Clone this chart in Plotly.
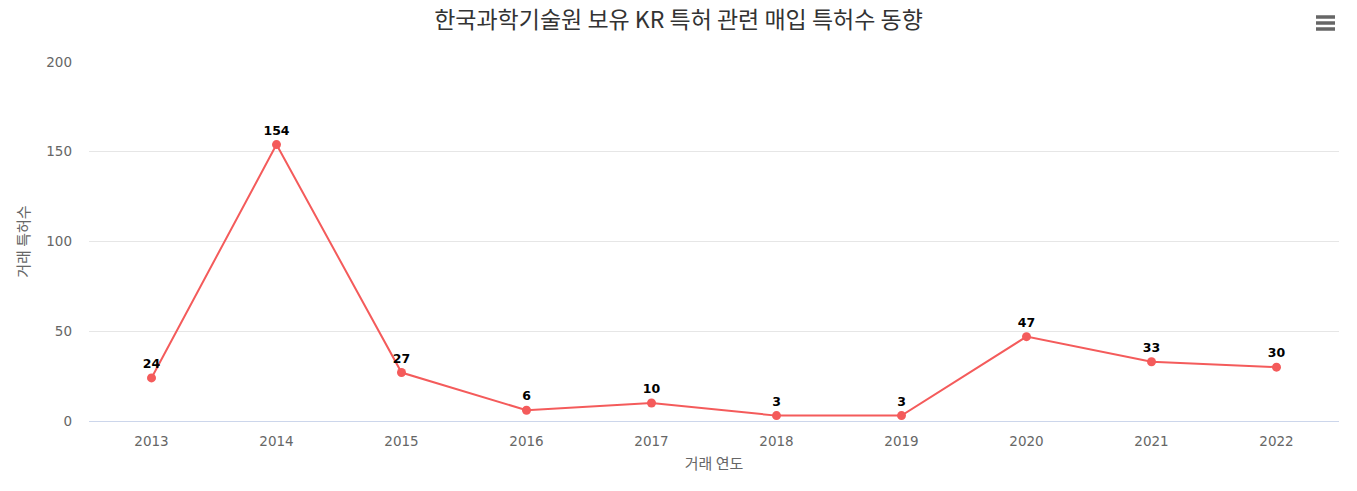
import plotly.graph_objects as go

years = ["2013", "2014", "2015", "2016", "2017", "2018", "2019", "2020", "2021", "2022"]
counts = [24, 154, 27, 6, 10, 3, 3, 47, 33, 30]
y_ticks = [0, 50, 100, 150, 200]

title = "한국과학기술원 보유 KR 특허 관련 매입 특허수 동향"
x_title = "거래 연도"
y_title = "거래 특허수"

font = "Noto Sans CJK KR, Noto Sans, sans-serif"
num_font = "DejaVu Sans, Verdana, sans-serif"

fig = go.Figure()
fig.add_trace(go.Scatter(
    x=years, y=counts,
    mode="lines+markers+text",
    text=["<b>%d</b>" % v for v in counts],
    textposition="top center",
    textfont=dict(size=12.5, color="#000000", family=num_font),
    line=dict(color="#f45b5b", width=2),
    marker=dict(color="#f45b5b", size=9),
    hoverinfo="x+y",
    cliponaxis=False,
))

fig.update_layout(
    width=1357, height=491,
    margin=dict(l=89, r=18, t=62, b=70),
    paper_bgcolor="white", plot_bgcolor="white",
    showlegend=False,
    font=dict(family=font, color="#666666"),
    title=dict(text=title, x=0.5, xanchor="center", y=1 - 20 / 491, yanchor="middle",
               font=dict(size=23, color="#333333", family=font)),
    xaxis=dict(
        type="category", range=[-0.5, len(years) - 0.5],
        showgrid=False, showline=True, linecolor="#ccd6eb", linewidth=1,
        ticks="", tickfont=dict(size=13.5, color="#666666", family=num_font),
        ticklabelstandoff=8,
        title=dict(text=x_title, font=dict(size=15, color="#666666"), standoff=10),
        fixedrange=True,
    ),
    yaxis=dict(
        range=[0, 200], tickvals=y_ticks,
        showgrid=True, gridcolor="#e6e6e6", gridwidth=1,
        zeroline=False, showline=False,
        tickfont=dict(size=13.5, color="#666666", family=num_font), ticklabelstandoff=16,
        title=dict(text=y_title, font=dict(size=15, color="#666666"), standoff=12),
        fixedrange=True,
    ),
)

# hamburger menu icon (decoration)
for py in [17, 23, 29]:
    yp = (491 - 70 - py) / (491 - 62 - 70)
    fig.add_shape(type="line", xref="paper", yref="paper",
                  x0=(1316 - 89) / 1250, x1=(1335 - 89) / 1250,
                  y0=yp, y1=yp, line=dict(color="#666666", width=3.5))

fig.write_html("out.html", config={"displayModeBar": False})
